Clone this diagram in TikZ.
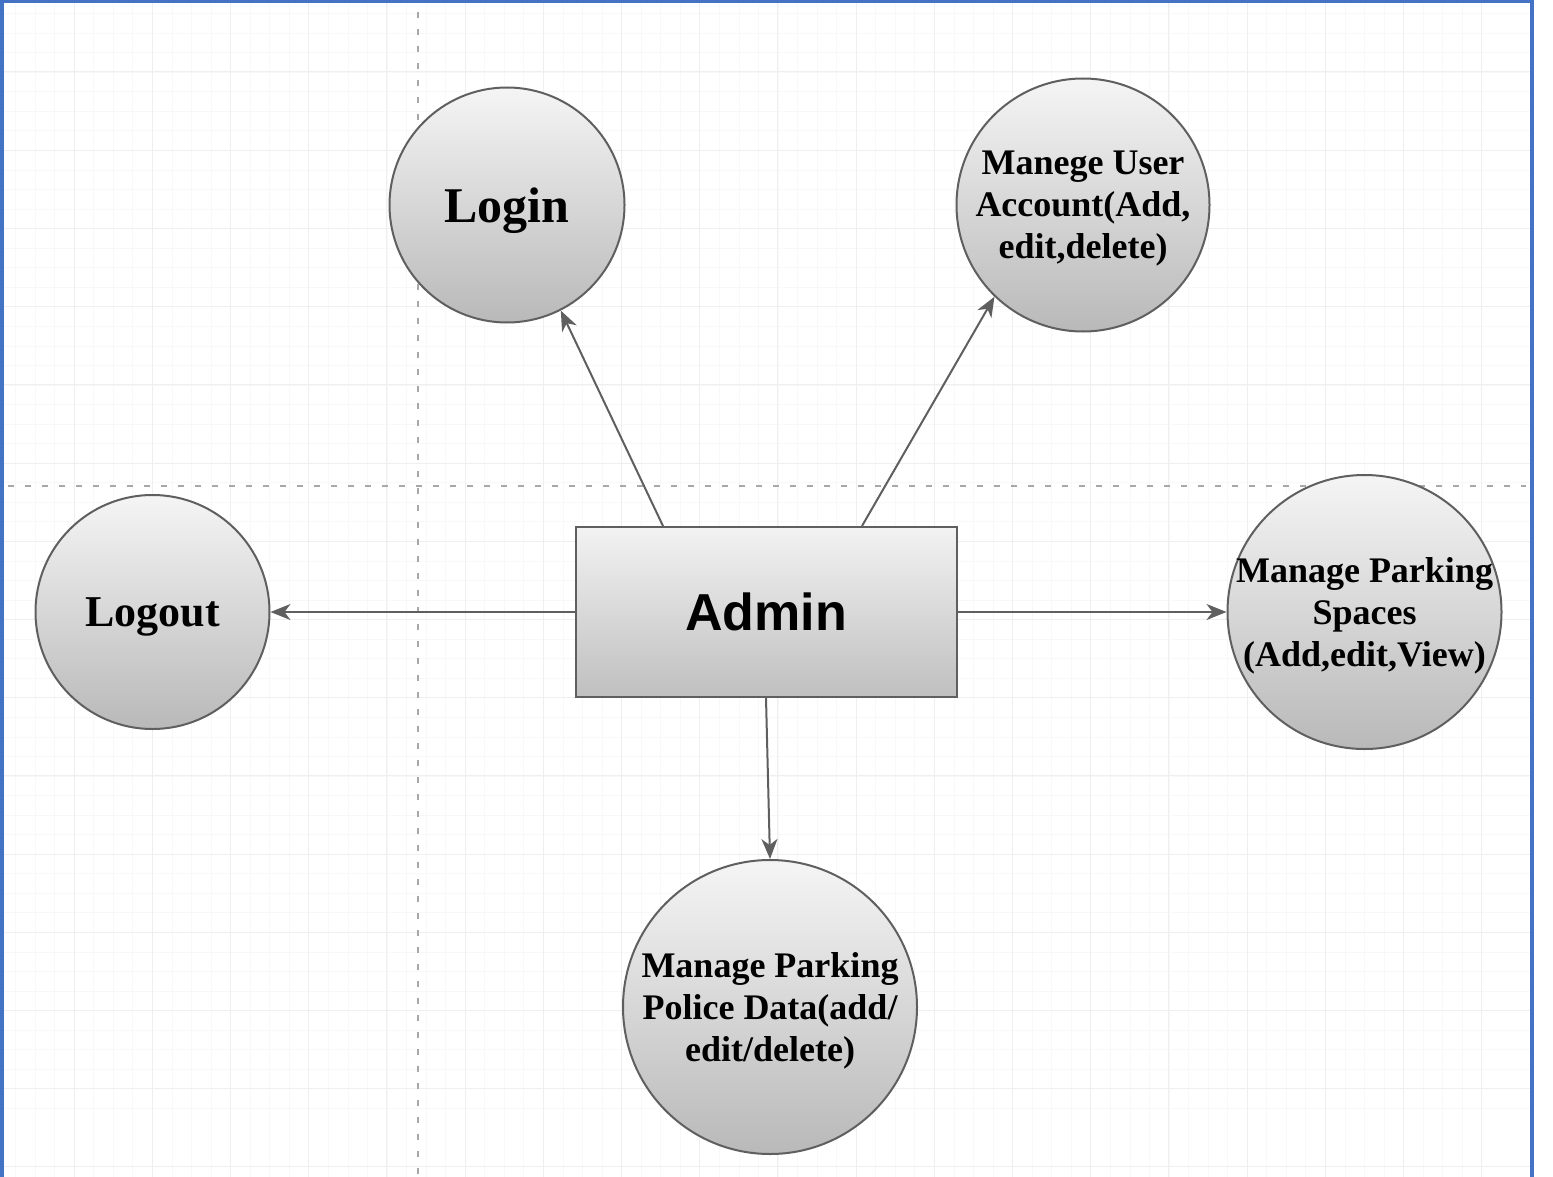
\documentclass[tikz,border=0pt]{standalone}
\usepackage{fontspec}
\setmainfont{Liberation Serif}
\newfontfamily\adminfont{Liberation Sans}
\usetikzlibrary{
  arrows.meta,
  positioning
}
\definecolor{edgegray}{RGB}{95,95,95}
\definecolor{framebl}{RGB}{68,114,196}
\definecolor{gridgray}{RGB}{239,239,239}
\definecolor{gridfaint}{RGB}{248,248,248}
\definecolor{dashgray}{RGB}{168,168,168}

\begin{document}
\begin{tikzpicture}[x=0.5pt, y=-0.5pt,
  usecase/.style={circle, draw=edgegray, line width=1pt, top color=gray!8,
               bottom color=gray!55, inner sep=-3pt, align=center, text depth=0pt,
               font=\bfseries\fontsize{18}{21}\selectfont},
  actor/.style={rectangle, draw=edgegray, line width=1pt, top color=gray!10,
               bottom color=gray!50, minimum width=190.5pt, minimum height=85pt,
               font=\adminfont\bfseries\fontsize{26}{30}\selectfont},
  arr/.style={-{Stealth[length=10pt,width=8pt,inset=3pt]}, line width=1pt, edgegray},
  guide/.style={dashgray, line width=1.1pt, dash pattern=on 3pt off 5.5pt},
  node distance=0.4cm
]
  \useasboundingbox (0,0) rectangle (1553,1177);

  % page grid and guides
  \foreach \k in {0,...,75}
    \draw[gridfaint, line width=0.4pt] ({-4+19.55*\k},3) -- ({-4+19.55*\k},1177);
  \foreach \k in {0,...,57}
    \draw[gridfaint, line width=0.4pt] (3,{-6+19.55*\k}) -- (1530,{-6+19.55*\k});
  \foreach \k in {0,...,18}
    \draw[gridgray, line width=0.5pt] ({74+78.2*\k},3) -- ({74+78.2*\k},1177);
  \foreach \k in {0,...,14}
    \draw[gridgray, line width=0.5pt] (3,{72+78.2*\k}) -- (1530,{72+78.2*\k});
  \draw[guide] (418,12) -- (418,1177);
  \draw[guide] (8,486) -- (1526,486);

  % frame
  \draw[framebl, line width=2pt] (1.5,1177) -- (1.5,1.5) -- (1531.5,1.5) -- (1531.5,1177);

  \node[actor] (admin) at (766,612) {Admin};

  \node[usecase, minimum size=117.5pt, font=\bfseries\fontsize{25}{30}\selectfont]
    (login) at (507,205) {Login};
  \node[usecase, minimum size=126.5pt] (manageuser) at (1083,205)
    {Manege User\\Account(Add,\\edit,delete)};
  \node[usecase, minimum size=117pt, font=\bfseries\fontsize{22}{26}\selectfont,
    left=152pt of admin] (logout) {Logout};
  \node[usecase, minimum size=137pt, right=134.5pt of admin] (spaces)
    {Manage Parking\\Spaces\\(Add,edit,View)};
  \node[usecase, minimum size=147pt, below=80.5pt of admin, xshift=2pt] (police)
    {Manage Parking\\Police Data(add/\\edit/delete)};

  \draw[arr] ([xshift=-51.5pt]admin.north) -- (login.297);
  \draw[arr] ([xshift=48pt]admin.north) -- (manageuser.226);
  \draw[arr] (admin) -- (logout);
  \draw[arr] (admin) -- (spaces);
  \draw[arr] (admin.south) -- (police.north);
\end{tikzpicture}
\end{document}
